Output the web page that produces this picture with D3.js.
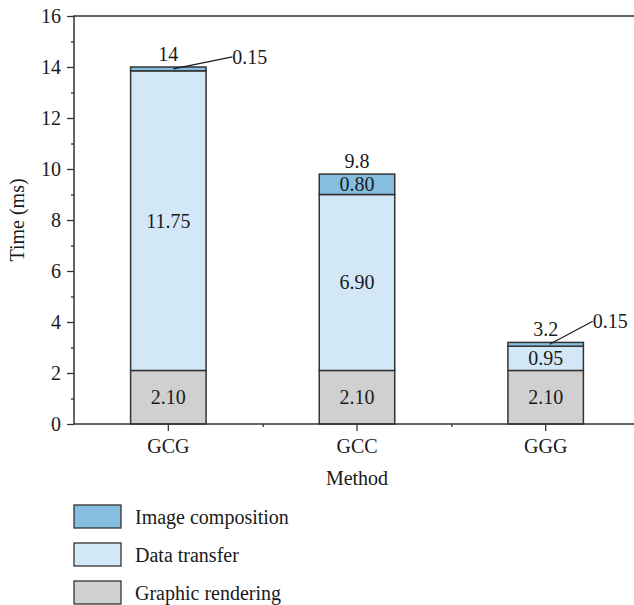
<!DOCTYPE html>
<html>
<head>
<meta charset="utf-8">
<script src="https://cdn.jsdelivr.net/npm/d3@7"></script>
<style>
  body { margin: 0; background: #fff; }
  svg text { font-family: "Liberation Serif", "DejaVu Serif", serif; fill: #1a1a1a; }
</style>
</head>
<body>
<div id="chart"></div>
<script>
// ---- data ----
const methods = ["GCG", "GCC", "GGG"];
const seriesNames = ["Graphic rendering", "Data transfer", "Image composition"];
const graphicRendering = [2.10, 2.10, 2.10];
const dataTransfer = [11.75, 6.90, 0.95];
const imageComposition = [0.15, 0.80, 0.15];
const totalLabels = ["14", "9.8", "3.2"];
const yTicks = [0, 2, 4, 6, 8, 10, 12, 14, 16];

const colors = {
    "Graphic rendering": "#d0d0d0",
    "Data transfer": "#d3e8f7",
    "Image composition": "#86bee2"
};

const fontSize = "20px";

// ---- layout ----
const width = 634, height = 605;
const plot = {left: 74, top: 16, right: 640, bottom: 424};

const svg = d3.select("#chart").append("svg")
    .attr("width", width)
    .attr("height", height);

const x = d3.scaleBand()
    .domain(methods)
    .range([plot.left, plot.right])
    .paddingInner(0.6)
    .paddingOuter(0.3);

const y = d3.scaleLinear()
    .domain([0, 16])
    .range([plot.bottom, plot.top]);

// build stacked table
const table = methods.map((m, i) => ({
    method: m,
    "Graphic rendering": graphicRendering[i],
    "Data transfer": dataTransfer[i],
    "Image composition": imageComposition[i]
}));
const stack = d3.stack().keys(seriesNames)(table);

// bars
const layers = svg.append("g").selectAll("g")
    .data(stack)
    .join("g")
    .attr("fill", d => colors[d.key]);

layers.selectAll("rect")
    .data(d => d)
    .join("rect")
    .attr("x", d => x(d.data.method))
    .attr("y", d => y(d[1]))
    .attr("width", x.bandwidth())
    .attr("height", d => y(d[0]) - y(d[1]))
    .attr("stroke", "#333")
    .attr("stroke-width", 1.5);

// values inside segments (skip the thin 0.15 slices)
stack.forEach(layer => {
    layer.forEach(d => {
        let v = d[1] - d[0];
        if (v < 0.5) return;
        svg.append("text")
            .attr("x", x(d.data.method) + x.bandwidth() / 2)
            .attr("y", y((d[0] + d[1]) / 2))
            .attr("dy", "0.35em")
            .attr("text-anchor", "middle")
            .style("font-size", fontSize)
            .text(v.toFixed(2));
    });
});

// totals on top
methods.forEach((m, i) => {
    let top = graphicRendering[i] + dataTransfer[i] + imageComposition[i];
    svg.append("text")
        .attr("x", x(m) + x.bandwidth() / 2)
        .attr("y", y(top) - 6)
        .attr("text-anchor", "middle")
        .style("font-size", fontSize)
        .text(totalLabels[i]);
});

// callouts for the thin slices
const callouts = [
    {i: 0, sx: 5, ex: 64, ey: -12},
    {i: 2, sx: 4, ex: 47, ey: -23}
];
callouts.forEach(c => {
    let m = methods[c.i];
    let cx = x(m) + x.bandwidth() / 2;
    let top = graphicRendering[c.i] + dataTransfer[c.i] + imageComposition[c.i];
    let sy = y(top - imageComposition[c.i] / 2);
    svg.append("line")
        .attr("x1", cx + c.sx).attr("y1", sy)
        .attr("x2", cx + c.ex).attr("y2", sy + c.ey)
        .attr("stroke", "#1a1a1a")
        .attr("stroke-width", 1.2);
    svg.append("text")
        .attr("x", cx + c.ex)
        .attr("y", sy + c.ey)
        .attr("dy", "0.35em")
        .style("font-size", fontSize)
        .text(imageComposition[c.i].toFixed(2));
});

// y axis
svg.append("g")
    .attr("transform", `translate(${plot.left},0)`)
    .call(d3.axisLeft(y).tickValues(yTicks).tickSize(7).tickPadding(6).tickFormat(d3.format("d")));
svg.append("g")
    .attr("transform", `translate(${plot.left},0)`)
    .call(d3.axisLeft(y).tickValues(d3.range(1, 16, 2)).tickSize(3).tickFormat(""));

// x axis
svg.append("g")
    .attr("transform", `translate(0,${plot.bottom})`)
    .call(d3.axisBottom(x).tickSize(7).tickPadding(8).tickSizeOuter(0));
let minorX = [x("GCG") + x.bandwidth() / 2 + x.step() / 2, x("GCC") + x.bandwidth() / 2 + x.step() / 2];
svg.append("g")
    .attr("transform", `translate(0,${plot.bottom})`)
    .call(d3.axisBottom(d3.scaleIdentity()).tickValues(minorX).tickSize(3).tickFormat("").tickSizeOuter(0));

svg.selectAll(".domain").remove();
svg.selectAll(".tick line").attr("stroke", "#333").attr("stroke-width", 1.3);
svg.selectAll(".tick text").style("font-size", fontSize).style("font-family", "Liberation Serif").attr("fill", "#1a1a1a");

// frame
svg.append("rect")
    .attr("x", plot.left).attr("y", plot.top)
    .attr("width", plot.right - plot.left).attr("height", plot.bottom - plot.top)
    .attr("fill", "none")
    .attr("stroke", "#333")
    .attr("stroke-width", 1.5);

// axis titles
svg.append("text")
    .attr("x", x("GCC") + x.bandwidth() / 2)
    .attr("y", 485)
    .attr("text-anchor", "middle")
    .style("font-size", fontSize)
    .text("Method");
svg.append("text")
    .attr("transform", `translate(24,${(plot.top + plot.bottom) / 2}) rotate(-90)`)
    .attr("text-anchor", "middle")
    .style("font-size", fontSize)
    .text("Time (ms)");

// legend (top entry first)
const legendOrder = seriesNames.slice().reverse();
const legend = svg.append("g").selectAll("g")
    .data(legendOrder)
    .join("g")
    .attr("transform", (d, i) => `translate(74,${505 + i * 38})`);
legend.append("rect")
    .attr("width", 47).attr("height", 23)
    .attr("fill", d => colors[d])
    .attr("stroke", "#333")
    .attr("stroke-width", 1.3);
legend.append("text")
    .attr("x", 61).attr("y", 11.5)
    .attr("dy", "0.35em")
    .style("font-size", fontSize)
    .text(d => d);
</script>
</body>
</html>
